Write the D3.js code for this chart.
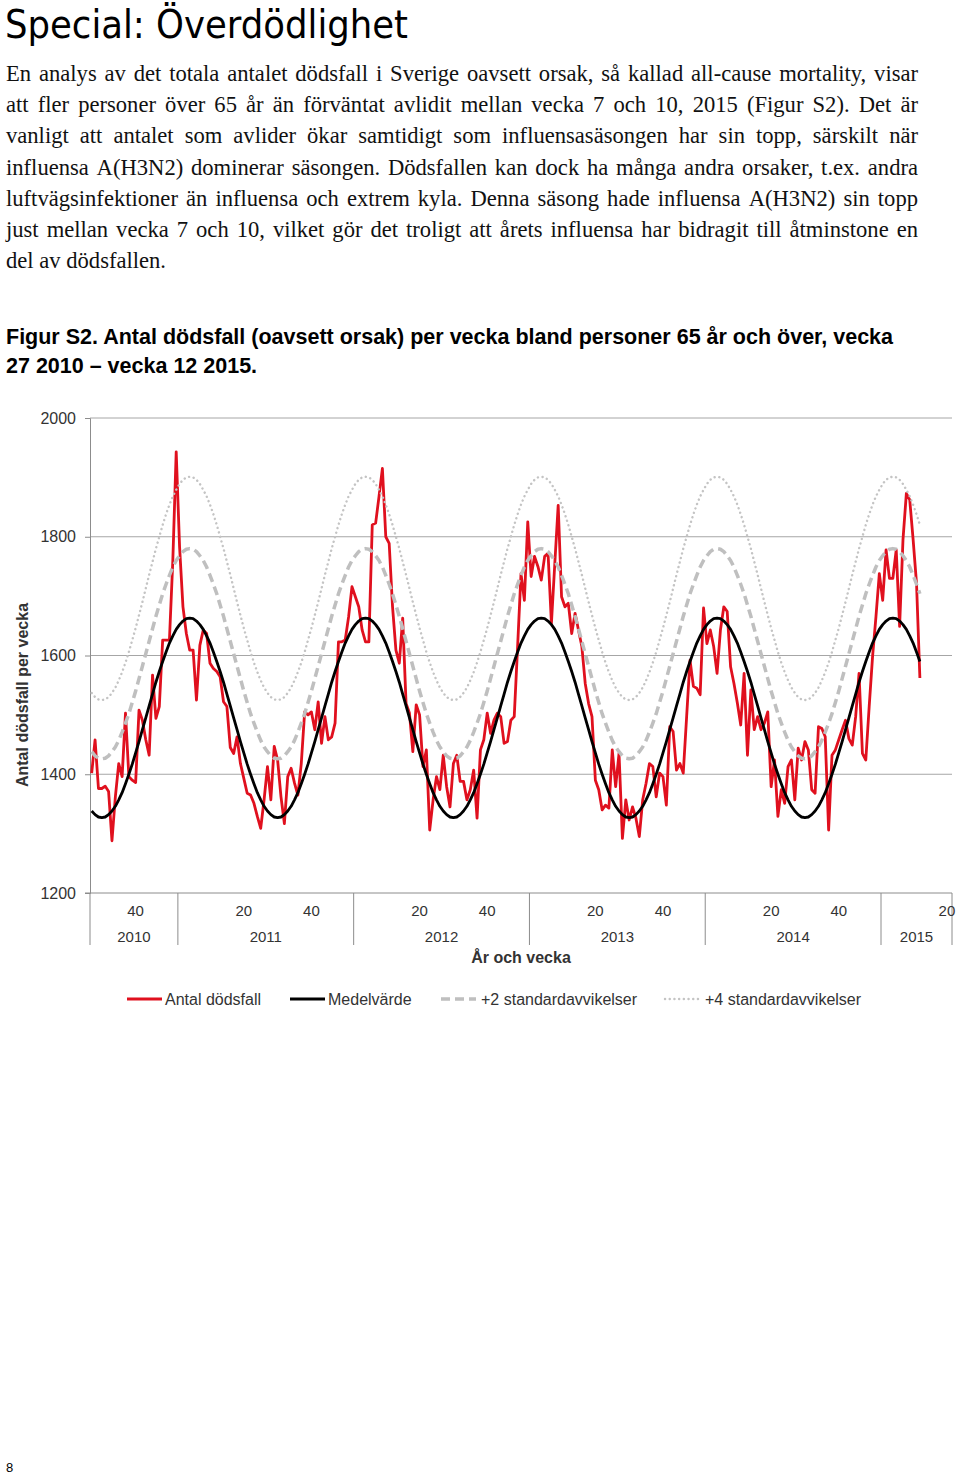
<!DOCTYPE html>
<html>
<head>
<meta charset="utf-8">
<script src="https://cdn.jsdelivr.net/npm/d3@7"></script>
<style>
  html, body { margin: 0; padding: 0; background: #fff; }
  svg { display: block; }
</style>
</head>
<body>
<svg id="page" width="960" height="1475"></svg>
<script>
// ---------------- DATA ----------------
const titleText = "Special: Överdödlighet";
const bodyLines = [
  "En analys av det totala antalet dödsfall i Sverige oavsett orsak, så kallad all-cause mortality, visar",
  "att fler personer över 65 år än förväntat avlidit mellan vecka 7 och 10, 2015 (Figur S2). Det är",
  "vanligt att antalet som avlider ökar samtidigt som influensasäsongen har sin topp, särskilt när",
  "influensa A(H3N2) dominerar säsongen. Dödsfallen kan dock ha många andra orsaker, t.ex. andra",
  "luftvägsinfektioner än influensa och extrem kyla. Denna säsong hade influensa A(H3N2) sin topp",
  "just mellan vecka 7 och 10, vilket gör det troligt att årets influensa har bidragit till åtminstone en",
  "del av dödsfallen."
];
const captionLines = [
  "Figur S2. Antal dödsfall (oavsett orsak) per vecka bland personer 65 år och över, vecka",
  "27 2010 – vecka 12 2015."
];
const pageNumber = "8";

const years = [2010, 2011, 2012, 2013, 2014, 2015];
const firstWeek = 27;      // first category: week 27, 2010
const lastAxisWeek = 21;   // axis runs to week 21, 2015
const weeksInYear = 52;
const weekTickLabels = [20, 40];
const yTicks = [1200, 1400, 1600, 1800, 2000];
const yAxisTitle = "Antal dödsfall per vecka";
const xAxisTitle = "År och vecka";
const seriesNames = ["Antal dödsfall", "Medelvärde", "+2 standardavvikelser", "+4 standardavvikelser"];

// Weekly deaths, week 27 2010 .. week 12 2015
const deaths = [
  1402,1458,1376,1376,1380,1371,1288,1362,1418,1396,1503,1396,1390,1386,1508,1491,1458,1432,1567,1494,
  1514,1626,1626,1626,1760,1943,1783,1682,1637,1609,1609,1525,1617,1643,1637,1587,1578,1573,1564,1522,
  1514,1445,1435,1463,1418,1393,1368,1365,1351,1329,1309,1357,1413,1357,1447,1424,1362,1317,1396,1410,
  1385,1365,1418,1505,1500,1505,1475,1522,1452,1497,1458,1463,1486,1623,1623,1626,1665,1716,1699,1682,
  1643,1623,1623,1820,1823,1868,1915,1800,1789,1682,1609,1587,1663,1519,1503,1438,1517,1500,1413,1441,
  1306,1357,1396,1374,1432,1379,1345,1418,1432,1388,1388,1357,1374,1407,1326,1441,1458,1503,1469,1491,
  1503,1497,1452,1455,1491,1497,1615,1738,1693,1825,1733,1767,1750,1727,1767,1772,1654,1755,1853,1699,
  1682,1688,1637,1671,1643,1615,1553,1519,1497,1390,1374,1340,1348,1343,1441,1379,1435,1292,1357,1323,
  1345,1326,1295,1357,1385,1418,1413,1362,1402,1396,1348,1480,1472,1407,1418,1402,1497,1592,1548,1545,
  1534,1680,1620,1643,1615,1570,1643,1682,1674,1581,1553,1520,1483,1570,1432,1542,1475,1497,1475,1486,
  1505,1379,1424,1329,1374,1351,1413,1424,1357,1444,1424,1455,1441,1374,1368,1480,1477,1463,1306,1432,
  1441,1458,1475,1491,1460,1449,1497,1570,1435,1424,1514,1598,1665,1738,1693,1778,1730,1730,1778,1649,
  1795,1873,1862,1795,1722,1562
];

// Expected level by ISO week (1..52)
const meanByWeek = [
  1652,1658,1662,1663,1662,1658,1652,1644,1633,1621,1606,1590,1573,1555,1535,1515,1495,1475,1455,1436,
  1417,1400,1384,1369,1357,1346,1338,1332,1328,1327,1328,1332,1338,1346,1357,1369,1384,1400,1417,1436,
  1455,1475,1495,1515,1535,1555,1573,1590,1606,1621,1633,1644
];
const plus2sdByWeek = [
  1768,1775,1779,1780,1779,1775,1768,1760,1749,1735,1720,1704,1685,1666,1645,1624,1603,1582,1561,1540,
  1521,1502,1486,1471,1457,1446,1438,1431,1427,1426,1427,1431,1438,1446,1457,1471,1486,1502,1521,1540,
  1561,1582,1603,1624,1645,1666,1685,1704,1720,1735,1749,1760
];
const plus4sdByWeek = [
  1889,1896,1900,1901,1900,1896,1889,1879,1868,1854,1838,1820,1800,1780,1758,1736,1713,1690,1668,1646,
  1626,1606,1588,1572,1558,1546,1537,1530,1526,1525,1526,1530,1537,1546,1558,1572,1588,1606,1626,1646,
  1668,1690,1713,1736,1758,1780,1800,1820,1838,1854,1868,1879
];

// ---------------- BUILD ----------------
const cats = [];
years.forEach((yr, k) => {
  const from = k === 0 ? firstWeek : 1;
  const to = k === years.length - 1 ? lastAxisWeek : weeksInYear;
  for (let w = from; w <= to; w++) cats.push({ year: yr, week: w });
});

const svg = d3.select("#page");
svg.append("rect").attr("width", 960).attr("height", 1475).attr("fill", "#fff");

function fit(sel, target) {
  const w = sel.node().getComputedTextLength();
  if (Math.abs(w - target) > 1) sel.attr("textLength", target).attr("lengthAdjust", "spacingAndGlyphs");
}

// Title
const title = svg.append("text")
  .attr("x", 5).attr("y", 38)
  .attr("font-family", "'DejaVu Sans', Verdana, sans-serif")
  .attr("font-size", 39).attr("fill", "#000")
  .text(titleText);
fit(title, 403);

// Body paragraph (justified)
const serif = "'Liberation Serif', 'Times New Roman', serif";
const bodyG = svg.append("g").attr("font-family", serif).attr("font-size", 22.6).attr("fill", "#111");
const spaceW = (() => {
  const t = bodyG.append("text").text("a a");
  const t2 = bodyG.append("text").text("aa");
  const w = t.node().getComputedTextLength() - t2.node().getComputedTextLength();
  t.remove(); t2.remove();
  return w;
})();
bodyLines.forEach((line, li) => {
  const y = 81 + li * 31.2;
  const words = line.split(" ");
  const nodes = words.map(w => bodyG.append("text").attr("y", y).text(w));
  const widths = nodes.map(n => n.node().getComputedTextLength());
  const justify = li < bodyLines.length - 1;
  const gap = justify ? (918 - 6 - d3.sum(widths)) / (words.length - 1) : spaceW;
  let x = 6;
  nodes.forEach((n, i) => { n.attr("x", x); x += widths[i] + gap; });
});

// Caption
const sansB = "'Liberation Sans', Arial, sans-serif";
captionLines.forEach((line, i) => {
  svg.append("text")
    .attr("x", 6).attr("y", 344 + i * 28.5)
    .attr("font-family", sansB).attr("font-weight", "bold")
    .attr("font-size", 21.5).attr("fill", "#000")
    .text(line);
});

// Page number
svg.append("text").attr("x", 6).attr("y", 1472)
  .attr("font-family", sansB).attr("font-size", 13).attr("fill", "#000").text(pageNumber);

// ---------------- CHART ----------------
const x = d3.scaleBand().domain(d3.range(cats.length)).range([90, 952]).paddingInner(0).paddingOuter(0);
const bw = x.bandwidth();
const cx = i => x(i) + bw / 2;
const y = d3.scaleLinear().domain([1200, 2000]).range([893, 418]);

const chart = svg.append("g").attr("font-family", sansB);

// gridlines
chart.append("g").selectAll("line").data(yTicks.filter(v => v > 1200)).join("line")
  .attr("x1", 90).attr("x2", 952)
  .attr("y1", d => y(d)).attr("y2", d => y(d))
  .attr("stroke", "#a6a6a6").attr("stroke-width", 1);

// y axis
const yAxis = chart.append("g").attr("transform", "translate(90,0)")
  .call(d3.axisLeft(y).tickValues(yTicks).tickSize(5).tickPadding(9).tickFormat(d3.format("d")));
yAxis.select(".domain").attr("stroke", "#8c8c8c");
yAxis.selectAll(".tick line").attr("stroke", "#8c8c8c");
yAxis.selectAll(".tick text").attr("font-size", 16).attr("fill", "#333").attr("font-family", sansB);

// x axis line
chart.append("line").attr("x1", 85).attr("x2", 952).attr("y1", 893).attr("y2", 893)
  .attr("stroke", "#8c8c8c").attr("stroke-width", 1);

// year group boundaries
const yearStarts = years.map(yr => cats.findIndex(c => c.year === yr));
const boundaries = yearStarts.map(i => x(i)).concat([x(cats.length - 1) + bw]);
chart.append("g").selectAll("line").data(boundaries).join("line")
  .attr("x1", d => d).attr("x2", d => d).attr("y1", 893).attr("y2", 945)
  .attr("stroke", "#8c8c8c").attr("stroke-width", 1);

// week labels
chart.append("g").selectAll("text")
  .data(cats.map((c, i) => ({ c, i })).filter(d => weekTickLabels.includes(d.c.week)))
  .join("text")
  .attr("x", d => cx(d.i)).attr("y", 916)
  .attr("text-anchor", "middle").attr("font-size", 15).attr("fill", "#333")
  .text(d => d.c.week);

// year labels
chart.append("g").selectAll("text").data(years).join("text")
  .attr("x", (yr, k) => (boundaries[k] + boundaries[k + 1]) / 2).attr("y", 942)
  .attr("text-anchor", "middle").attr("font-size", 15).attr("fill", "#333")
  .text(d => d);

// axis titles
chart.append("text").attr("x", 521).attr("y", 963).attr("text-anchor", "middle")
  .attr("font-size", 16).attr("font-weight", "bold").attr("fill", "#333").text(xAxisTitle);
chart.append("text").attr("transform", "translate(28,695) rotate(-90)").attr("text-anchor", "middle")
  .attr("font-size", 16).attr("font-weight", "bold").attr("fill", "#333").text(yAxisTitle);

// series
const n = deaths.length;
const idx = d3.range(n);
const lineGen = acc => d3.line().x(i => cx(i)).y(i => y(acc(i)))(idx);
const styles = [
  { color: "#e0101e", width: 2.8, dash: null, cap: "butt" },
  { color: "#000000", width: 2.8, dash: null, cap: "butt" },
  { color: "#bfbfbf", width: 3.5, dash: "9,5", cap: "butt" },
  { color: "#c4c4c4", width: 2.4, dash: "0.1,4.6", cap: "round" }
];
const accessors = [
  i => deaths[i],
  i => meanByWeek[cats[i].week - 1],
  i => plus2sdByWeek[cats[i].week - 1],
  i => plus4sdByWeek[cats[i].week - 1]
];
const linesG = chart.append("g").attr("fill", "none");
accessors.forEach((acc, k) => {
  const s = styles[k];
  linesG.append("path").attr("d", lineGen(acc))
    .attr("stroke", s.color).attr("stroke-width", s.width)
    .attr("stroke-linejoin", "round").attr("stroke-linecap", s.cap)
    .attr("stroke-dasharray", s.dash);
});

// legend
const legendX = [127, 290, 441, 665];
const legend = chart.append("g");
seriesNames.forEach((name, k) => {
  const s = styles[k];
  legend.append("line").attr("x1", legendX[k]).attr("x2", legendX[k] + 35)
    .attr("y1", 999).attr("y2", 999)
    .attr("stroke", s.color).attr("stroke-width", s.width)
    .attr("stroke-linecap", s.cap).attr("stroke-dasharray", s.dash);
  legend.append("text").attr("x", legendX[k] + 38 + (k >= 2 ? 2 : 0)).attr("y", 1005)
    .attr("font-size", 16).attr("fill", "#333").text(name);
});
</script>
</body>
</html>
